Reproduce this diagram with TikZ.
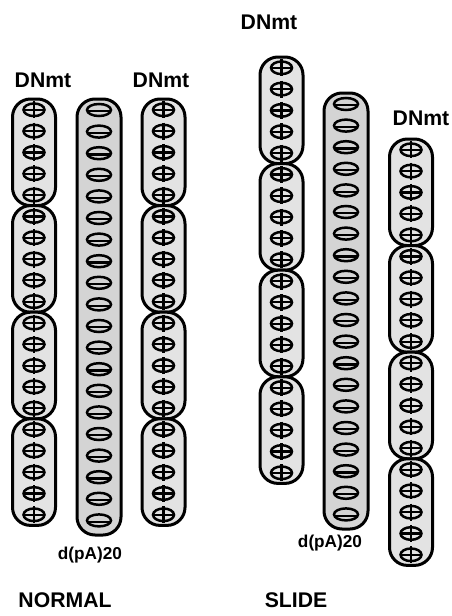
\documentclass[tikz,border=0pt]{standalone}
\usepackage{fontspec}
\setmainfont{Liberation Sans}
\tikzset{
  dnbox/.style={draw, line width=1.5pt, rounded corners=9pt, fill=black!11},
  pabox/.style={draw, line width=1.5pt, rounded corners=9pt, fill=black!17},
  lbl/.style={font=\fontsize{10.6}{12}\selectfont\bfseries, inner sep=0pt},
  smalllbl/.style={font=\fontsize{8.6}{10}\selectfont\bfseries, inner sep=0pt},
  dnmark/.pic={
    \draw[line width=1.25pt] (0,0) ellipse (10.5 and 6.3);
    \draw[line width=1.1pt] (-10.5,0) -- (10.5,0);
    \draw[line width=1.1pt] (0,-8.5) -- (0,8.5);
  },
  pamark/.pic={
    \draw[line width=1.25pt] (0,0) ellipse (12 and 6);
    \draw[line width=1.1pt] (-11,1.2) -- (11,1.2);
  }
}
\begin{document}
\begin{tikzpicture}[x=0.5pt,y=-0.5pt]
	\useasboundingbox (0,0) rectangle (451,616);
	
	% DNmt columns: four boxes of five each
	\foreach \cx/\ct in {34/99, 163.5/99, 281.5/57, 411/139} {
		\foreach \b in {0,...,3} {
			\draw[dnbox] (\cx-21.5,\ct+\b*106.6) rectangle (\cx+21.5,\ct+\b*106.6+106.6);
			\foreach \s in {0,...,4}
				\pic at (\cx,\ct+\b*106.6+10.8+\s*21.3) {dnmark};
		}
	}
	
	% d(pA)20 columns
	\foreach \cx/\ct in {99/99, 346/93} {
		\draw[pabox] (\cx-22,\ct) rectangle (\cx+22,\ct+436);
		\foreach \s in {0,...,19}
			\pic at (\cx,\ct+11+\s*21.6) {pamark};
	}
	
	% Labels
	\node[lbl] (dnA) at (43,80) {DNmt};
	\node[lbl] (dnC) at (161,80) {DNmt};
	\node[lbl] (dnD) at (269,22) {DNmt};
	\node[lbl] (dnF) at (421,118) {DNmt};
	\node[smalllbl] (paB) at (90,555) {d(pA)20};
	\node[smalllbl] (paE) at (330,543) {d(pA)20};
	\node[lbl] (normal) at (65,600) {NORMAL};
	\node[lbl] (slide) at (296,600) {SLIDE};
\end{tikzpicture}
\end{document}
